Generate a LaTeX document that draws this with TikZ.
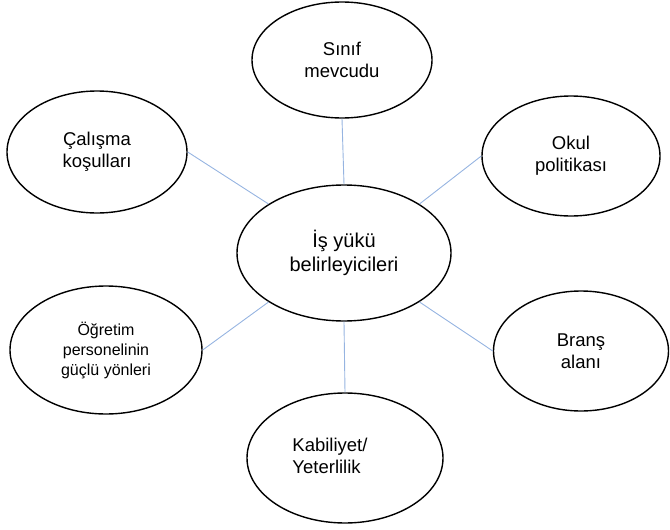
\documentclass[tikz,border=0pt]{standalone}
\usepackage{fontspec}
\setmainfont{Liberation Sans}
\usetikzlibrary{shapes.geometric}
\definecolor{connblue}{RGB}{150,180,225}
\tikzset{
  bubble/.style={draw=black, line width=1.4pt, ellipse, inner sep=0pt, align=center, font=\fontsize{18.5}{22}\selectfont},
  conn/.style={draw=connblue, line width=0.9pt}
}
\begin{document}
\begin{tikzpicture}[x=1pt,y=-1pt]
\useasboundingbox (0,0) rectangle (670,530);
\node[bubble, minimum width=214pt, minimum height=136pt, font=\fontsize{20}{24}\selectfont] (main) at (344,253) {İş yükü\\belirleyicileri};
\node[bubble, minimum width=180pt, minimum height=116pt] (sinif) at (342,60) {Sınıf\\mevcudu};
\node[bubble, minimum width=180pt, minimum height=122pt] (calisma) at (97,152) {Çalışma\\koşulları};
\node[bubble, minimum width=178pt, minimum height=120pt] (okul) at (571,156) {Okul\\politikası};
\node[bubble, minimum width=192pt, minimum height=128pt, font=\fontsize{16}{20}\selectfont] (ogretim) at (106,350) {Öğretim\\personelinin\\güçlü yönleri};
\node[bubble, minimum width=175pt, minimum height=120pt] (brans) at (581,351) {Branş\\alanı};
\node[bubble, minimum width=196pt, minimum height=130pt] (kab) at (345,458) {\begin{tabular}{@{}l@{\hspace{30pt}}}Kabiliyet/\\Yeterlilik\end{tabular}};
\draw[conn] (calisma.east) -- (main.147);
\draw[conn] (okul.west) -- (main.33);
\draw[conn] (ogretim.east) -- (main.213);
\draw[conn] (brans.west) -- (main.-33);
\draw[conn] (sinif.south) -- (main.north);
\draw[conn] (kab.north) -- (main.south);
\end{tikzpicture}
\end{document}
